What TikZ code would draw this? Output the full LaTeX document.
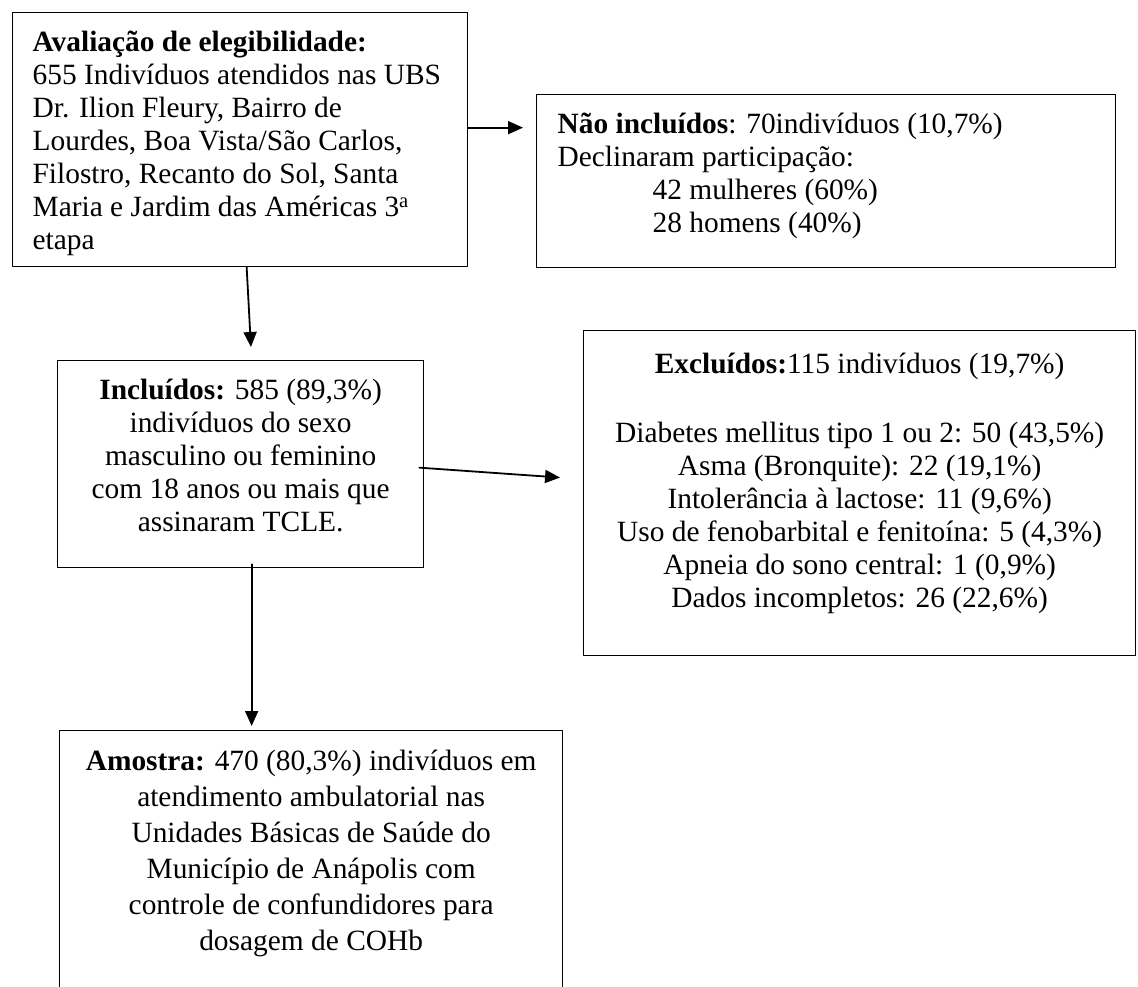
\documentclass[tikz,border=0pt]{standalone}
\usepackage{fontspec}
\setmainfont{Liberation Serif}
\usetikzlibrary{arrows.meta}
\newcommand{\caixa}[5][39pt]{\parbox[c][#3][t]{#2}{#4\rule{0pt}{#1}#5}}

\begin{document}
\begin{tikzpicture}[line cap=round,line join=round,>={Triangle[length=15pt,width=13pt]},x=1pt,y=-1pt,
  bloco/.style={draw,line width=1.3pt,inner xsep=20pt,inner ysep=0pt,anchor=north west,font=\fontsize{29.4}{33}\selectfont},
  seta/.style={->,line width=1.8pt}]
\path[use as bounding box,clip] (0,0) rectangle (1138,987);
% caixas
\node[bloco] (aval) at (12,12) {\caixa{415pt}{254pt}{\raggedright}{\textbf{Avaliação de elegibilidade:}\\
655 Indivíduos atendidos nas UBS\\
Dr. Ilion Fleury, Bairro de\\
Lourdes, Boa Vista/São Carlos,\\
Filostro, Recanto do Sol, Santa\\
Maria e Jardim das Américas 3\textsuperscript{a}\\
etapa}};
\node[bloco,inner xsep=21pt] (naoincl) at (536,94) {\caixa{537pt}{173pt}{\raggedright}{\textbf{Não incluídos}: 70indivíduos (10,7\%)\\
Declinaram participação:\\
\hspace*{95pt}42 mulheres (60\%)\\
\hspace*{95pt}28 homens (40\%)}};
\node[bloco] (incl) at (57,360) {\caixa{326pt}{207pt}{\centering}{\textbf{Incluídos:} 585 (89,3\%)\\
indivíduos do sexo\\
masculino ou feminino\\
com 18 anos ou mais que\\
assinaram TCLE.}};
\node[bloco] (excl) at (583,330) {\caixa[43pt]{512pt}{325pt}{\centering}{\textbf{Excluídos:}115 indivíduos (19,7\%)\\[36pt]
Diabetes mellitus tipo 1 ou 2: 50 (43,5\%)\\
Asma (Bronquite): 22 (19,1\%)\\
Intolerância à lactose: 11 (9,6\%)\\
Uso de fenobarbital e fenitoína: 5 (4,3\%)\\
Apneia do sono central: 1 (0,9\%)\\
Dados incompletos: 26 (22,6\%)}};
\node[bloco,font=\fontsize{29.4}{36}\selectfont] (amostra) at (59,730) {\caixa[40pt]{463pt}{300pt}{\centering}{\textbf{Amostra:} 470 (80,3\%) indivíduos em\\
atendimento ambulatorial nas\\
Unidades Básicas de Saúde do\\
Município de Anápolis com\\
controle de confundidores para\\
dosagem de COHb}};
% setas
\draw[seta,shorten >=13pt] ([yshift=12pt]aval.east) -- ([yshift=12pt]aval.east -| naoincl.west);
\draw[seta,shorten >=13pt] ([xshift=6.5pt]aval.south) -- ([xshift=11pt]incl.north);
\draw[seta,shorten >=23pt] ([xshift=-5pt,yshift=-3.5pt]incl.east) -- ([yshift=14pt]excl.west);
\draw[seta] ([xshift=11pt,yshift=4pt]incl.south) -- ([xshift=11pt,yshift=4pt]incl.south |- amostra.north);
\end{tikzpicture}
\end{document}
